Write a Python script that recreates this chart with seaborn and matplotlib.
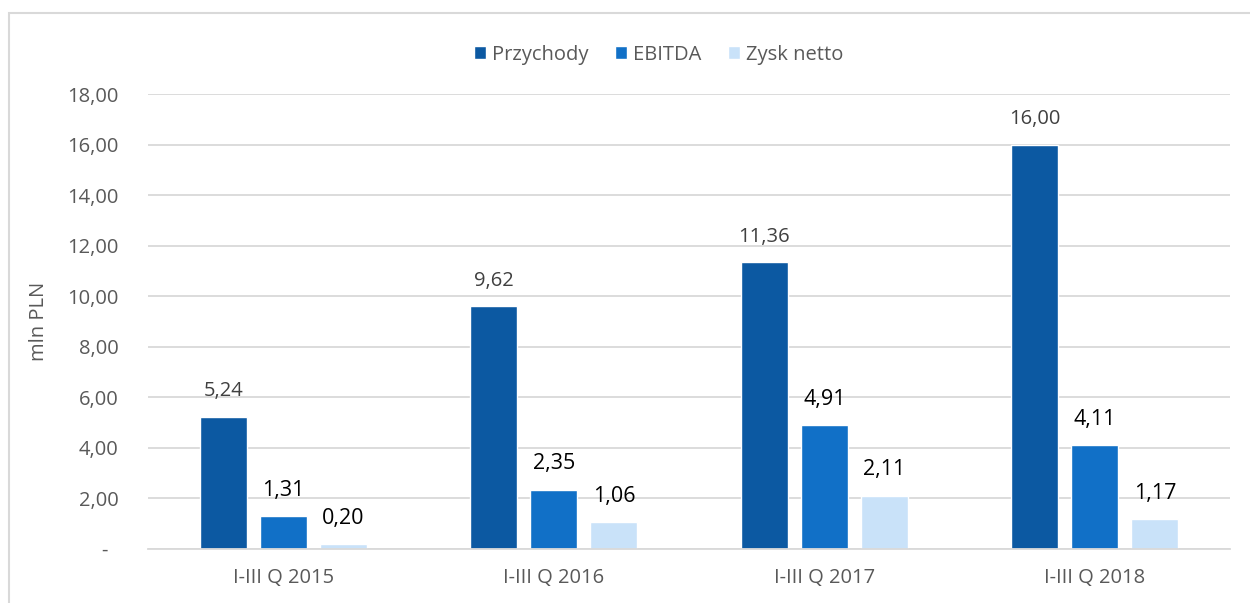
"""
bar chart: Przychody / EBITDA / Zysk netto
"""
import pandas as pd
import seaborn as sns
import matplotlib.pyplot as plt

periods = ["I-III Q 2015", "I-III Q 2016", "I-III Q 2017", "I-III Q 2018"]
series = ["Przychody", "EBITDA", "Zysk netto"]
przychody = [5.24, 9.62, 11.36, 16.00]
ebitda = [1.31, 2.35, 4.91, 4.11]
zysk_netto = [0.20, 1.06, 2.11, 1.17]
y_ticks = [0, 2, 4, 6, 8, 10, 12, 14, 16, 18]

colors = ["#0C59A2", "#1170C7", "#C9E2F9"]
label_colors = ["#404040", "#000000", "#000000"]

df = pd.DataFrame({
    "okres": periods * 3,
    "seria": [s for s in series for _ in periods],
    "wartosc": przychody + ebitda + zysk_netto,
})

sns.set_style("white")
plt.rcParams["font.family"] = ["Open Sans", "DejaVu Sans"]

fig = plt.figure(figsize=(12.5, 6.03), dpi=100)
ax = fig.add_axes([0.1184, 0.0896, 0.8656, 0.7545])

sns.barplot(data=df, x="okres", y="wartosc", hue="seria", hue_order=series,
            palette=colors, width=0.666, gap=0.22, saturation=1,
            ax=ax, legend=True)

def fmt(v):
    return f"{v:.2f}".replace(".", ",")

for cont, col, fs in zip(ax.containers, label_colors, [14.5, 15.5, 15.5]):
    ax.bar_label(cont, labels=[fmt(b.get_height()) for b in cont],
                 padding=11, fontsize=fs, color=col)

ax.set_ylim(0, 18)
ax.set_xlim(-0.5, 3.5)
ax.set_yticks(y_ticks)
ax.set_yticklabels(["-  " if t == 0 else fmt(t) for t in y_ticks])
ax.grid(axis="y", color="#D9D9D9", linewidth=1.3)
ax.set_axisbelow(True)
for s in ["top", "right", "left"]:
    ax.spines[s].set_visible(False)
ax.spines["bottom"].set_color("#D9D9D9")
ax.spines["bottom"].set_linewidth(1.3)
ax.tick_params(axis="y", length=0, pad=21, labelsize=14.5, labelcolor="#595959")
ax.tick_params(axis="x", length=0, pad=14, labelsize=14.5, labelcolor="#595959")
ax.set_xlabel("")
ax.set_ylabel("mln PLN", fontsize=14.5, color="#595959", labelpad=13)

handles, labels = ax.get_legend_handles_labels()
ax.legend_.remove()
fig.legend(handles, labels, loc="center", bbox_to_anchor=(0.527, 0.909),
           ncol=3, frameon=False, fontsize=14.5, labelcolor="#595959",
           handlelength=0.6, handleheight=0.6, handletextpad=0.3,
           columnspacing=1.3)

fig.add_artist(plt.Rectangle((0.0072, -0.1), 1.1, 1.078, transform=fig.transFigure,
                             fill=False, edgecolor="#D9D9D9", linewidth=1.5))

plt.savefig("out.png", dpi=100)
